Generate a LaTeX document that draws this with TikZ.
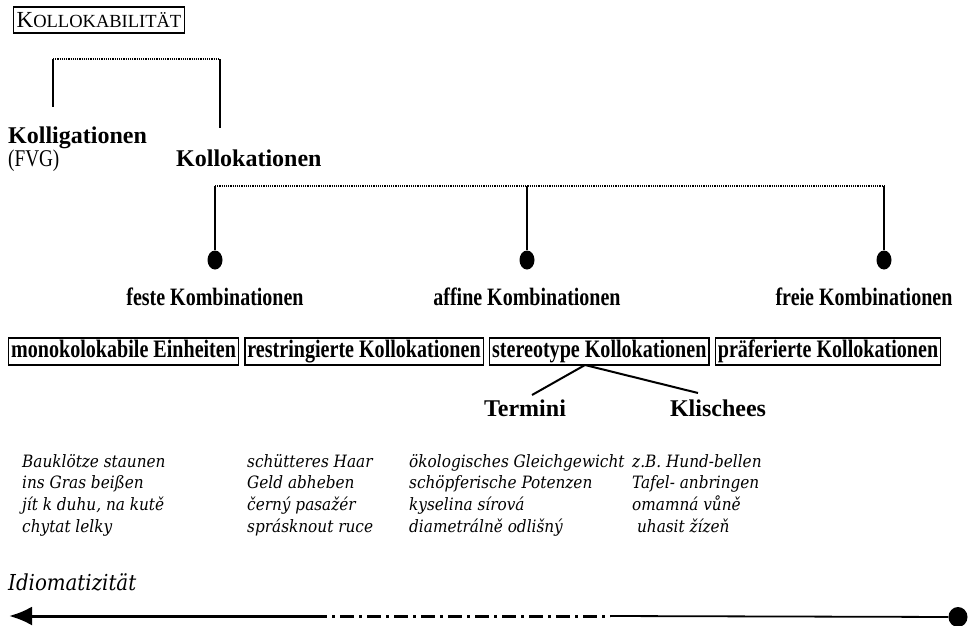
\documentclass[tikz,border=0pt]{standalone}
\usepackage{fontspec}
\setmainfont{Liberation Serif}
\newfontfamily\condfont[FakeStretch=0.8]{Liberation Serif}
\newfontfamily\exfont{DejaVu Serif Condensed}
\usetikzlibrary{shapes.geometric, arrows.meta, positioning}
\tikzstyle{headtext} = [font=\fontsize{24}{26}\selectfont\bfseries, inner sep=0pt]
\tikzstyle{kombtext} = [font=\condfont\fontsize{25}{27}\selectfont\bfseries, inner sep=0pt]
\tikzstyle{typebox} = [draw=black, line width=1.4pt, font=\condfont\fontsize{25.1}{27}\selectfont\bfseries, inner sep=2.5pt, text height=17pt, text depth=5pt]
\tikzstyle{examples} = [font=\exfont\itshape\fontsize{17}{21.7}\selectfont, align=left, anchor=north west, inner sep=0pt]
\tikzstyle{stem} = [line width=2pt]
\tikzstyle{branch} = [line width=1.2pt, densely dotted]
\tikzstyle{leaf} = [ellipse, fill=black, minimum width=15pt, minimum height=19pt, inner sep=0pt]

\begin{document}
\begin{tikzpicture}[x=1pt, y=1pt, yscale=-1]
\useasboundingbox (0,0) rectangle (972,625);

\node at (99,20) (kollokab) [draw, line width=1.3pt, inner sep=3pt, minimum height=26pt] {{\fontsize{23}{25}\selectfont K}{\fontsize{18.5}{20}\selectfont OLLOKABILITÄT}};

% first split
\coordinate (kabL) at (53,59);
\coordinate (kabR) at (220,59);
\coordinate (kollgend) at (53,107);
\coordinate (kollkend) at (220,128);
\draw[branch] (kabL) -- (kabR);
\draw[stem] (kabL) -- (kollgend);
\draw[stem] (kabR) -- (kollkend);

\node[headtext, anchor=base west] at (8,143) (kolligationen) {Kolligationen};
\node[anchor=base west, inner sep=0pt, font=\condfont\fontsize{24}{26}\selectfont] at (8,166) (fvg) {(FVG)};
\node[headtext, anchor=base west] at (176,166) (kollokationen) {Kollokationen};

% second split
\coordinate (kollL) at (215,186);
\coordinate (kollM) at (527,186);
\coordinate (kollR) at (884,186);
\draw[branch] (kollL) -- (kollR);
\node[leaf] at (215,260) (festedot) {};
\node[leaf] at (527,260) (affindot) {};
\node[leaf] at (884,260) (freidot) {};
\draw[stem] (kollL) -- (festedot);
\draw[stem] (kollM) -- (affindot);
\draw[stem] (kollR) -- (freidot);

\node[kombtext, anchor=base] at (215,305) (feste) {feste Kombinationen};
\node[kombtext, anchor=base] at (527,305) (affine) {affine Kombinationen};
\node[kombtext, anchor=base] at (864,305) (freie) {freie Kombinationen};

% types
\node[typebox, anchor=west] at (8,351.5) (mono) {monokolokabile Einheiten};
\node[typebox, right=5pt of mono] (restr) {restringierte Kollokationen};
\node[typebox, right=5pt of restr] (stereo) {stereotype Kollokationen};
\node[typebox, right=5pt of stereo] (praef) {präferierte Kollokationen};

\coordinate (fork) at (585,365);
\coordinate (terminiend) at (532,395);
\coordinate (klischeesend) at (698,393);
\draw[stem] (fork) -- (terminiend);
\draw[stem] (fork) -- (klischeesend);
\node[headtext, anchor=base] at (525,416) (termini) {Termini};
\node[headtext, anchor=base] at (718,416) (klischees) {Klischees};

% examples
\node[examples] at (22,454) (exmono) {Bauklötze staunen\\ins Gras beißen\\jít k duhu, na kutě\\chytat lelky};
\node[examples] at (247,454) (exrestr) {schütteres Haar\\Geld abheben\\černý pasažér\\sprásknout ruce};
\node[examples] at (409,454) (exstereo) {ökologisches Gleichgewicht\\schöpferische Potenzen\\kyselina sírová\\diametrálně odlišný};
\node[examples] at (632,454) (expraef) {z.B. Hund-bellen\\Tafel- anbringen\\omamná vůně\\\ uhasit žízeň};

% scale
\node[anchor=base west, inner sep=0pt, font=\exfont\itshape\fontsize{22}{24}\selectfont] at (8,590) (idiom) {Idiomatizität};
\coordinate (arrowtip) at (9,616);
\coordinate (thickend) at (313,616);
\coordinate (dashend) at (610,616);
\node[leaf, minimum width=19pt, minimum height=20pt] at (958,617) (scaledot) {};
\draw[line width=3pt, -{Latex[length=23pt,width=19pt]}] (thickend) -- (arrowtip);
\draw[line width=3pt, dash pattern=on 14pt off 5pt on 3pt off 5pt] (thickend) -- (dashend);
\draw[line width=1.8pt] (dashend) -- (scaledot);

\end{tikzpicture}
\end{document}
